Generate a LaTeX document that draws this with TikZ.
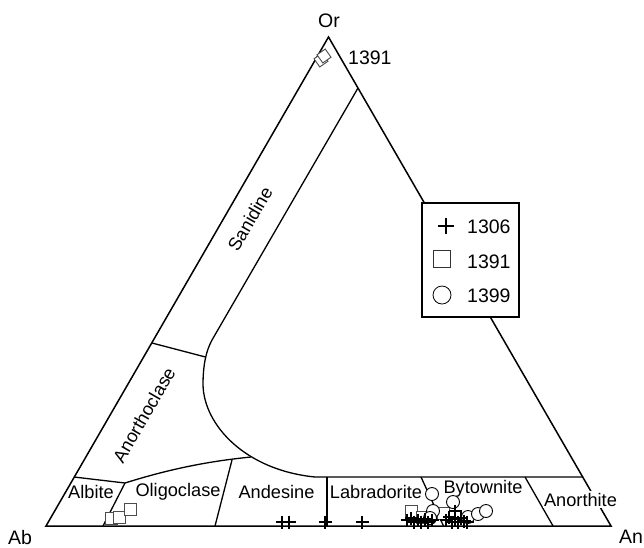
\documentclass[tikz,border=0pt]{standalone}
\usepackage{fontspec}
\setmainfont{Liberation Sans}
\begin{document}
\begin{tikzpicture}[x=1pt,y=-1pt,
  edge/.style={line width=1.5pt},
  field/.style={line width=1.3pt},
  flabel/.style={font=\fontsize{18.2}{20}\selectfont, inner sep=0pt},
  vlabel/.style={font=\fontsize{19.5}{22}\selectfont, inner sep=0pt},
  sq/.style={draw=black!70, fill=white, line width=0.9pt, minimum size=12pt, inner sep=0pt, rectangle},
  ci/.style={draw=black, fill=white, line width=0.9pt, minimum size=13pt, inner sep=0pt, circle},
  pplus/.pic={\draw[line width=1.8pt] (-6.5,0)--(6.5,0) (0,-6.5)--(0,6.5);},
  lplus/.pic={\draw[line width=2.2pt] (-8,0)--(8,0) (0,-8)--(0,8);}
]
\useasboundingbox (0,0) rectangle (644,547);
% vertices
\coordinate (Ab) at (46,526);
\coordinate (An) at (611,526);
\coordinate (Or) at (328.5,37);
% field boundaries
\draw[field] (358,88) -- (212,340) .. controls (206,351) and (203,365) .. (203,385)
  .. controls (204,425) and (245,470) .. (315,477) -- (583,477);
\draw[field] (152,343) -- (205.5,357);
\draw[field] (74,477) -- (125,483) .. controls (160,472) and (200,462) .. (251,457);
\draw[field] (125,483) -- (103,526);
\draw[field] (232,460) -- (215,526);
\draw[field] (327,477) -- (327,526);
\draw[field] (421,477) -- (443.5,526);
\draw[field] (525,477) -- (553,526);
% triangle
\draw[edge, line join=miter] (Ab) -- (An) -- (Or) -- cycle;
% labels
\node[vlabel, anchor=base] (lor) at (329,27) {Or};
\node[vlabel, anchor=base] (lab) at (20,544) {Ab};
\node[vlabel, anchor=base] (lan) at (631,543) {An};
\node[vlabel, anchor=base west] (l1391) at (348,64) {1391};
\node[flabel, anchor=base] (albite) at (91,498) {Albite};
\node[flabel, anchor=base] (oligo) at (178,496) {Oligoclase};
\node[flabel, anchor=base] (andes) at (276.5,498) {Andesine};
\node[flabel, anchor=base] (labra) at (376,498) {Labradorite};
\node[flabel, anchor=base] (bytow) at (483,493) {Bytownite};
\node[flabel, anchor=base, fill=white, inner sep=1.5pt] (anort) at (580.5,506) {Anorthite};
\node[flabel, rotate=60] (sanid) at (250,219) {Sanidine};
\node[flabel, rotate=60] (anorc) at (144,415) {Anorthoclase};
% data near Or
\node[sq, minimum size=10pt, rotate=35] (o1) at (321,60) {};
\node[sq, minimum size=10pt, rotate=35] (o2) at (324,56) {};
% data near Ab
\node[sq] (s1) at (111,518) {};
\node[sq] (s2) at (119.5,517) {};
\node[sq] (s3) at (130.5,509.5) {};
% squares in cluster
\node[sq] (s4) at (411,511) {};
\node[sq] (s5) at (422,517) {};
\node[sq] (s6) at (443,513) {};
% circles
\node[ci] (c1) at (432,494) {};
\node[ci] (c2) at (453,502) {};
\node[ci] (c3) at (433,511) {};
\node[ci] (c4) at (430,518) {};
\node[ci] (c5) at (468,517) {};
\node[ci] (c6) at (478,514) {};
\node[ci] (c7) at (486,511) {};
% crosses
\foreach \x/\y in {282/522,289/522,325/522,362/522,
  407/520,411/518,414/522,418/520,421/522,425/519,428/522,432/520,
  446/520,449/517,452/522,455/519,458/522,461/518,464/521,467/522}
  \pic at (\x,\y) {pplus};
\pic at (455,511) {pplus};
% legend
\node[draw, fill=white, line width=1.5pt, minimum width=97pt, minimum height=114pt, inner sep=0pt] (legend) at (470.5,260) {};
\pic at (446,226) {lplus};
\node[draw=black!80, fill=white, line width=0.8pt, minimum size=17pt, inner sep=0pt] (lsq) at (442,259) {};
\node[draw, circle, line width=0.8pt, minimum size=18pt, inner sep=0pt] (lci) at (442,295) {};
\node[vlabel, anchor=base west] (t1306) at (467,233) {1306};
\node[vlabel, anchor=base west] (t1391) at (467,268) {1391};
\node[vlabel, anchor=base west] (t1399) at (467,302) {1399};
\end{tikzpicture}
\end{document}
